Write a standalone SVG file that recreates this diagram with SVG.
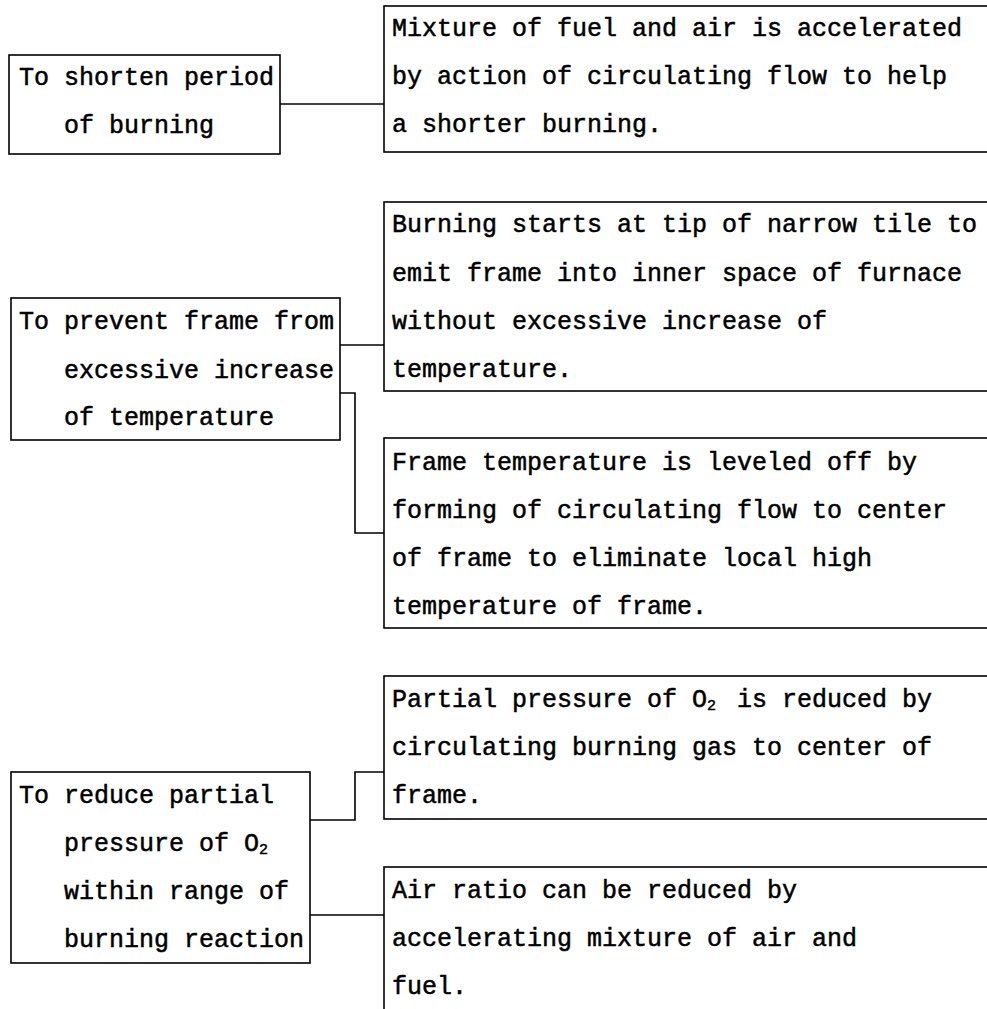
<svg xmlns="http://www.w3.org/2000/svg" width="987" height="1009" viewBox="0 0 987 1009">
<style>
.box{fill:none;stroke:#000;stroke-width:1.6}
.con{fill:none;stroke:#000;stroke-width:1.6}
text{font-family:"Liberation Mono","DejaVu Sans Mono",monospace;font-size:25px;fill:#000;stroke:#000;stroke-width:0.5}
.sub{font-size:15px}
</style>
<rect width="987" height="1009" fill="#fff"/>
<g id="connectors">
<path class="con" d="M280,104 H384"/>
<path class="con" d="M340,345 H384"/>
<path class="con" d="M340,393 H355 V533 H384"/>
<path class="con" d="M310,820 H355 V772 H384"/>
<path class="con" d="M310,915 H384"/>
</g>
<g id="goal1">
<rect class="box" x="9" y="55" width="271" height="99"/>
<text x="19" y="85">To shorten period</text>
<text x="64" y="133">of burning</text>
</g>
<g id="means1">
<rect class="box" x="384" y="6" width="620" height="146"/>
<text x="392" y="36">Mixture of fuel and air is accelerated</text>
<text x="392" y="84">by action of circulating flow to help</text>
<text x="392" y="132">a shorter burning.</text>
</g>
<g id="goal2">
<rect class="box" x="11" y="298" width="329" height="142"/>
<text x="19" y="329">To prevent frame from</text>
<text x="64" y="378">excessive increase</text>
<text x="64" y="425">of temperature</text>
</g>
<g id="means2a">
<rect class="box" x="384" y="202" width="620" height="189"/>
<text x="392" y="232">Burning starts at tip of narrow tile to</text>
<text x="392" y="281">emit frame into inner space of furnace</text>
<text x="392" y="329">without excessive increase of</text>
<text x="392" y="377">temperature.</text>
</g>
<g id="means2b">
<rect class="box" x="384" y="438" width="620" height="190"/>
<text x="392" y="470">Frame temperature is leveled off by</text>
<text x="392" y="518">forming of circulating flow to center</text>
<text x="392" y="566">of frame to eliminate local high</text>
<text x="392" y="614">temperature of frame.</text>
</g>
<g id="goal3">
<rect class="box" x="11" y="772" width="299" height="191"/>
<text x="19" y="803">To reduce partial</text>
<text x="64" y="851">pressure of O<tspan class="sub" dy="3">2</tspan></text>
<text x="64" y="899">within range of</text>
<text x="64" y="947">burning reaction</text>
</g>
<g id="means3a">
<rect class="box" x="384" y="676" width="620" height="143"/>
<text x="392" y="707">Partial pressure of O<tspan class="sub" dy="3">2</tspan></text>
<text x="737" y="707">is reduced by</text>
<text x="392" y="755">circulating burning gas to center of</text>
<text x="392" y="803">frame.</text>
</g>
<g id="means3b">
<rect class="box" x="384" y="867" width="620" height="200"/>
<text x="392" y="898">Air ratio can be reduced by</text>
<text x="392" y="946">accelerating mixture of air and</text>
<text x="392" y="994">fuel.</text>
</g>
</svg>
